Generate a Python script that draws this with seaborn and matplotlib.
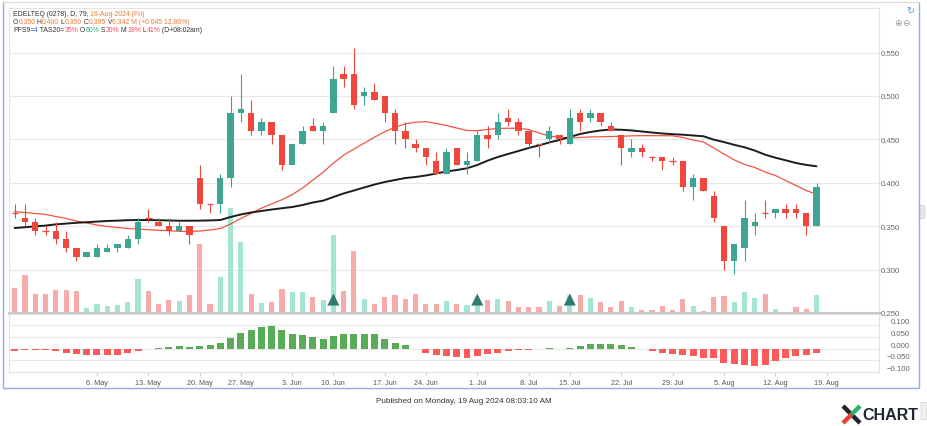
import numpy as np
import pandas as pd
import matplotlib
matplotlib.use("Agg")
import matplotlib.pyplot as plt
import seaborn as sns
from matplotlib.patches import FancyBboxPatch
from matplotlib.lines import Line2D
from matplotlib.transforms import ScaledTranslation

# ---------------- data ----------------
opens = [0.365, 0.360, 0.355, 0.345, 0.345, 0.335, 0.325, 0.315, 0.315, 0.320,
         0.325, 0.325, 0.335, 0.360, 0.355, 0.350, 0.345, 0.350, 0.405, 0.375,
         0.375, 0.405, 0.480, 0.480, 0.460, 0.470, 0.455, 0.420, 0.445, 0.465,
         0.460, 0.480, 0.525, 0.525, 0.500, 0.505, 0.500, 0.480, 0.460, 0.445,
         0.440, 0.425, 0.410, 0.440, 0.420, 0.425, 0.455, 0.455, 0.475, 0.470,
         0.460, 0.445, 0.450, 0.455, 0.445, 0.480, 0.475, 0.480, 0.465, 0.455,
         0.435, 0.440, 0.430, 0.430, 0.425, 0.425, 0.395, 0.405, 0.385, 0.350,
         0.310, 0.325, 0.350, 0.365, 0.365, 0.370, 0.370, 0.365, 0.350]
highs = [0.375, 0.375, 0.360, 0.350, 0.355, 0.345, 0.325, 0.320, 0.330, 0.330,
         0.330, 0.340, 0.360, 0.370, 0.360, 0.360, 0.355, 0.350, 0.420, 0.375,
         0.410, 0.500, 0.525, 0.495, 0.475, 0.470, 0.455, 0.445, 0.465, 0.475,
         0.470, 0.535, 0.535, 0.555, 0.510, 0.515, 0.500, 0.485, 0.470, 0.450,
         0.440, 0.435, 0.440, 0.440, 0.435, 0.460, 0.465, 0.480, 0.485, 0.475,
         0.460, 0.445, 0.465, 0.455, 0.485, 0.485, 0.485, 0.480, 0.470, 0.455,
         0.450, 0.445, 0.430, 0.430, 0.430, 0.425, 0.410, 0.405, 0.390, 0.350,
         0.330, 0.380, 0.365, 0.380, 0.370, 0.375, 0.375, 0.365, 0.400]
lows = [0.360, 0.350, 0.340, 0.340, 0.330, 0.320, 0.310, 0.315, 0.315, 0.320,
        0.320, 0.325, 0.330, 0.355, 0.350, 0.340, 0.345, 0.330, 0.370, 0.365,
        0.365, 0.395, 0.470, 0.455, 0.455, 0.445, 0.415, 0.420, 0.445, 0.460,
        0.445, 0.480, 0.510, 0.485, 0.490, 0.495, 0.470, 0.445, 0.440, 0.435,
        0.420, 0.410, 0.410, 0.420, 0.410, 0.425, 0.440, 0.450, 0.465, 0.455,
        0.440, 0.430, 0.445, 0.445, 0.445, 0.460, 0.470, 0.465, 0.460, 0.420,
        0.430, 0.430, 0.425, 0.415, 0.420, 0.390, 0.380, 0.390, 0.355, 0.300,
        0.295, 0.310, 0.340, 0.360, 0.360, 0.360, 0.360, 0.340, 0.350]
closes = [0.365, 0.355, 0.345, 0.345, 0.335, 0.325, 0.315, 0.320, 0.325, 0.325,
          0.330, 0.335, 0.355, 0.360, 0.350, 0.345, 0.350, 0.340, 0.375, 0.375,
          0.405, 0.480, 0.485, 0.460, 0.470, 0.455, 0.420, 0.445, 0.460, 0.460,
          0.465, 0.520, 0.520, 0.490, 0.505, 0.495, 0.480, 0.460, 0.450, 0.440,
          0.430, 0.410, 0.435, 0.420, 0.425, 0.455, 0.450, 0.470, 0.470, 0.460,
          0.445, 0.445, 0.460, 0.450, 0.475, 0.470, 0.480, 0.470, 0.460, 0.440,
          0.440, 0.435, 0.430, 0.425, 0.425, 0.395, 0.405, 0.390, 0.360, 0.310,
          0.330, 0.360, 0.355, 0.365, 0.370, 0.365, 0.365, 0.350, 0.395]
volumes_m = [8.7, 13.1, 6.7, 6.7, 8.1, 7.9, 7.6, 1.7, 3.0, 2.4,
             2.7, 3.7, 11.7, 7.5, 3.2, 4.4, 4.2, 6.3, 23.8, 3.2,
             12.6, 36.4, 24.6, 6.5, 3.5, 3.9, 8.4, 7.3, 7.3, 5.4,
             4.4, 26.9, 7.5, 21.6, 4.9, 3.2, 5.4, 6.2, 4.9, 6.7,
             3.2, 3.2, 4.2, 3.2, 2.9, 4.5, 4.4, 5.0, 4.2, 2.0,
             2.0, 2.0, 4.1, 2.3, 6.3, 6.1, 5.2, 3.8, 2.0, 4.2,
             2.1, 1.1, 1.1, 2.3, 1.1, 4.7, 2.4, 0.7, 5.6, 5.9,
             3.9, 7.2, 5.1, 6.6, 1.3, 0.35, 2.2, 1.4, 6.342]
ma_red = [0.3667, 0.3658, 0.3646, 0.3635, 0.3612, 0.3589, 0.3560, 0.3537, 0.3514, 0.3497,
          0.3485, 0.3473, 0.3468, 0.3459, 0.3453, 0.3448, 0.3441, 0.3439, 0.3445, 0.3456,
          0.3473, 0.3525, 0.3589, 0.3646, 0.3708, 0.3757, 0.3805, 0.3864, 0.3939, 0.4031,
          0.4121, 0.4227, 0.4319, 0.4388, 0.4457, 0.4525, 0.4588, 0.4641, 0.4679, 0.4698,
          0.4704, 0.4683, 0.4660, 0.4631, 0.4603, 0.4600, 0.4614, 0.4626, 0.4628, 0.4628,
          0.4614, 0.4574, 0.4539, 0.4524, 0.4516, 0.4522, 0.4528, 0.4530, 0.4533, 0.4536,
          0.4541, 0.4543, 0.4543, 0.4543, 0.4541, 0.4522, 0.4493, 0.4470, 0.4401, 0.4332,
          0.4263, 0.4211, 0.4176, 0.4124, 0.4084, 0.4026, 0.3969, 0.3911, 0.3868]
ma_black = [0.3479, 0.3488, 0.3498, 0.3507, 0.3521, 0.3530, 0.3539, 0.3546, 0.3553, 0.3560,
            0.3564, 0.3569, 0.3571, 0.3571, 0.3569, 0.3566, 0.3563, 0.3563, 0.3564, 0.3567,
            0.3571, 0.3606, 0.3635, 0.3658, 0.3675, 0.3692, 0.3707, 0.3721, 0.3744, 0.3773,
            0.3794, 0.3836, 0.3877, 0.3911, 0.3946, 0.3980, 0.4009, 0.4032, 0.4055, 0.4067,
            0.4084, 0.4107, 0.4130, 0.4147, 0.4167, 0.4205, 0.4255, 0.4297, 0.4332, 0.4366,
            0.4401, 0.4430, 0.4465, 0.4493, 0.4528, 0.4562, 0.4585, 0.4603, 0.4614, 0.4611,
            0.4603, 0.4591, 0.4579, 0.4568, 0.4560, 0.4554, 0.4545, 0.4536, 0.4497, 0.4469,
            0.4437, 0.4409, 0.4371, 0.4324, 0.4289, 0.4259, 0.4228, 0.4206, 0.4190]
osc_hist = [-0.010, -0.008, -0.008, -0.008, -0.010, -0.018, -0.024, -0.027, -0.027, -0.027,
            -0.027, -0.018, -0.010, -0.003, 0.002, 0.006, 0.010, 0.008, 0.010, 0.013,
            0.025, 0.045, 0.066, 0.078, 0.090, 0.095, 0.077, 0.062, 0.056, 0.048,
            0.042, 0.053, 0.062, 0.060, 0.062, 0.059, 0.042, 0.024, 0.014, -0.004,
            -0.020, -0.029, -0.032, -0.036, -0.039, -0.032, -0.025, -0.020, -0.010, -0.006,
            -0.005, -0.001, 0.002, 0.000, 0.002, 0.010, 0.017, 0.018, 0.021, 0.013,
            0.007, -0.004, -0.011, -0.020, -0.022, -0.029, -0.032, -0.039, -0.042, -0.062,
            -0.066, -0.071, -0.074, -0.069, -0.052, -0.041, -0.032, -0.027, -0.017]
signal_idx = [31, 45, 54]
start_date, end_date = "2024-04-23", "2024-08-16"
holidays = ["2024-05-01", "2024-05-22", "2024-06-03", "2024-06-17", "2024-07-08"]
price_ticks = [0.250, 0.300, 0.350, 0.400, 0.450, 0.500, 0.550]
osc_ticks = [0.100, 0.050, 0.000, -0.050, -0.100]

header1 = [("EDELTEQ (0278), D, 79, ", "k"), ("16-Aug-2024 (Fri)", "o")]
header2 = [("O", "k"), ("0.350", "o"), (" H", "k"), ("0.400", "o"), (" L", "k"), ("0.350", "o"),
           (" C", "k"), ("0.395", "o"), (" V", "k"), ("6.342 M (+0.045 12.86%)", "o")]
header3 = [("PFS9=", "k"), ("4", "b"), (" TAS20=", "k"), ("35%", "r"), (" O", "k"), ("60%", "g"),
           (" S", "k"), ("20%", "r"), (" M", "k"), ("19%", "r"), (" L", "k"), ("41%", "r"),
           (" (D+08:02am)", "k")]
footer = "Published on Monday, 19 Aug 2024 08:03:10 AM"

# ---------------- style ----------------
sns.set_theme(style="white")
plt.rcParams["font.family"] = ["Liberation Sans", "DejaVu Sans"]

UP, DOWN = "#3ea595", "#f0463c"
VUP, VDOWN = "#a3e4d2", "#f7acab"
OSC_UP, OSC_DOWN = "#5aab58", "#ff5a5a"
TXT = {"k": "#333333", "o": "#f07a3a", "b": "#2f6cf0", "r": "#f04e5a", "g": "#22b573"}

W, H = 928, 427
fig = plt.figure(figsize=(W / 100, H / 100), dpi=100)


def rect(x0, y0, x1, y1):
    return [x0 / W, 1 - y1 / H, (x1 - x0) / W, (y1 - y0) / H]


PL, PR = 9.3, 879
ax = fig.add_axes(rect(PL, 9.3, PR, 314))
axv = fig.add_axes(rect(PL, 9.3, PR, 314))
axv.set_visible(False)
axm = fig.add_axes(rect(PL, 315, PR, 373.3))

o = np.array(opens); h = np.array(highs); l = np.array(lows); c = np.array(closes)
n = len(c)
x = np.arange(n)
up = c > o
col = np.where(up, UP, DOWN)
XL = (-0.525, 84.08)

for a in (ax, axv, axm):
    a.set_xlim(*XL)
axv.set_ylim(0, 105.6)
# volume bars (drawn in the price panel, scaled by the hidden volume axis)
ax.bar(x, volumes_m, width=0.5, color=np.where(up, VUP, VDOWN), linewidth=0,
       transform=axv.transData, zorder=1)

# moving averages
sns.lineplot(x=x, y=ma_red, ax=ax, color="#f25444", linewidth=0.9, zorder=2)
sns.lineplot(x=x, y=ma_black, ax=ax, color="#1c1c1c", linewidth=1.4, zorder=2)

# candles
ax.vlines(x, l, h, colors=col, linewidth=0.8, zorder=3)
ax.bar(x, np.abs(c - o), bottom=np.minimum(o, c), width=0.62, color=col, linewidth=0, zorder=4)
doji = c == o
ax.hlines(c[doji], x[doji] - 0.31, x[doji] + 0.31, colors=DOWN, linewidth=0.9, zorder=4)

# signal triangles
sns.scatterplot(x=signal_idx, y=[0.2655] * len(signal_idx), ax=ax, marker="^", s=75,
                color="#2e7b71", edgecolor="none", zorder=5)

ax.set_ylim(0.25, 0.601)
ax.yaxis.tick_right()
ax.set_yticks(price_ticks)
ax.set_yticklabels([f"{v:.3f}" for v in price_ticks])
ax.tick_params(axis="y", length=0, pad=1, labelsize=5.6, labelcolor="#666666")
ax.set_xticks([])
ax.grid(axis="y", color="#e8e8e8", linewidth=0.8)
ax.grid(axis="x", visible=False)
ax.set_axisbelow(True)
for s in ax.spines.values():
    s.set_color("#e3e3e3"); s.set_linewidth(0.8)
ax.spines["bottom"].set_color("#c8c8c8"); ax.spines["bottom"].set_linewidth(2.2)
ax.set_xlabel(""); ax.set_ylabel("")

# oscillator pane
hist = np.array(osc_hist)
axm.bar(x, hist, width=0.68, color=np.where(hist >= 0, OSC_UP, OSC_DOWN), linewidth=0)
axm.set_ylim(-0.1, 0.145)
axm.yaxis.tick_right()
axm.set_yticks(osc_ticks)
axm.set_yticklabels([f"{v:.3f}".replace("-", "\u2212") for v in osc_ticks])
axm.tick_params(axis="y", length=0, pad=22.5, labelsize=5.6, labelcolor="#666666")
for lab in axm.get_yticklabels():
    lab.set_horizontalalignment("right")
    lab.set_transform(lab.get_transform() + ScaledTranslation(0, 3.2 / 72, fig.dpi_scale_trans))
axm.grid(axis="y", color="#e8e8e8", linewidth=0.8)
axm.set_axisbelow(True)
for s in axm.spines.values():
    s.set_color("#e0e0e0"); s.set_linewidth(0.8)

# date ticks
dates = pd.bdate_range(start_date, end_date)
dates = dates[~dates.isin(pd.to_datetime(holidays))]
mondays = pd.date_range("2024-05-06", "2024-08-19", freq="W-MON")
tick_pos = np.searchsorted(dates.values, mondays.values)
axm.set_xticks(tick_pos)
axm.set_xticklabels([f"{d.day}. {d.strftime('%b')}" for d in mondays])
axm.tick_params(axis="x", length=3, width=0.8, color="#ccd6eb", pad=2,
                labelsize=5.2, labelcolor="#555555", bottom=True)
axm.set_xlabel(""); axm.set_ylabel("")

# ---------------- texts ----------------
renderer = fig.canvas.get_renderer()


def text_w(s, size):
    t1 = fig.text(0, 0, s + "|", fontsize=size)
    t2 = fig.text(0, 0, "|", fontsize=size)
    w = t1.get_window_extent(renderer).width - t2.get_window_extent(renderer).width
    t1.remove(); t2.remove()
    return w


def rich(x0, y0, parts, size):
    xx = x0
    for s, k in parts:
        fig.text(xx / W, 1 - y0 / H, s, color=TXT[k], fontsize=size, va="center", ha="left")
        xx += text_w(s, size)


rich(13, 15, header1, 4.95)
rich(13, 22.7, header2, 4.95)
rich(13, 30.3, header3, 4.95)

fig.text(463.5 / W, 1 - 402 / H, footer, fontsize=5.9, color="#333333", ha="center", va="center")


def fline(p0, p1, color, lw, cap="butt"):
    fig.add_artist(Line2D([p0[0] / W, p1[0] / W], [1 - p0[1] / H, 1 - p1[1] / H],
                          transform=fig.transFigure, color=color, linewidth=lw,
                          solid_capstyle=cap))


# outer frame: light grey top, blue sides and bottom
fline((3, 3), (919, 3), "#dcdcdc", 0.9)
fline((3, 3), (3, 389), "#8db1ea", 1.0)
fline((919, 3), (919, 389), "#8db1ea", 1.0)
fline((3, 389), (919, 389), "#8db1ea", 1.0)

# toolbar icons
fig.text(910 / W, 1 - 11 / H, "\u21bb", fontsize=7, color="#5b8fe0", ha="center", va="center",
         family="DejaVu Sans")
fig.text(898 / W, 1 - 24 / H, "\u2295", fontsize=6.5, color="#9a9a9a", ha="center", va="center",
         family="DejaVu Sans")
fig.text(906 / W, 1 - 24 / H, "\u2296", fontsize=6.5, color="#9a9a9a", ha="center", va="center",
         family="DejaVu Sans")
fig.add_artist(FancyBboxPatch((920 / W, 1 - 219 / H), 4 / W, 12 / H, boxstyle="round,pad=0.001",
                              transform=fig.transFigure, facecolor="#e6e6e6", edgecolor="#cfcfcf",
                              linewidth=0.5))
fig.add_artist(FancyBboxPatch((922 / W, 1 - 420 / H), 4 / W, 16 / H, boxstyle="round,pad=0.001",
                              transform=fig.transFigure, facecolor="#f0f0f0", edgecolor="#cfcfcf",
                              linewidth=0.5))

# logo
fline((843, 407), (860, 424), "#1f2633", 3.2)
fline((860, 407), (851.5, 415.5), "#2fb36b", 3.2)
fline((851.5, 415.5), (843, 424), "#e8413a", 3.2)
fig.text(862 / W, 1 - 416 / H, "CHART", fontsize=11.5, fontweight="bold", color="#1f2633",
         ha="left", va="center")

fig.savefig("out.png", dpi=100)
